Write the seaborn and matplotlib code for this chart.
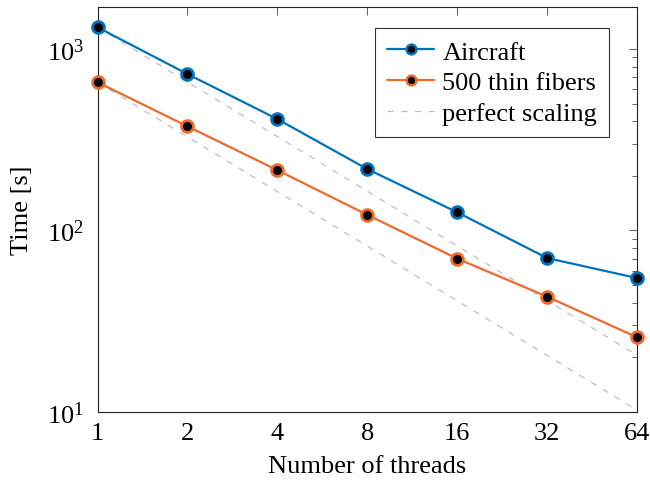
import numpy as np
import pandas as pd
import matplotlib
matplotlib.use("Agg")
import matplotlib.pyplot as plt
import seaborn as sns
from matplotlib.lines import Line2D
from matplotlib.ticker import FixedLocator, FixedFormatter, LogLocator, NullFormatter

# data
threads = [1, 2, 4, 8, 16, 32, 64]
aircraft = [1317, 728, 411, 218, 126, 70.5, 54.7]
fibers = [656, 375, 215, 122, 70, 43.2, 25.8]
labels = ["Aircraft", "500 thin fibers", "perfect scaling"]

sns.set_style("white")
plt.rcParams["font.family"] = ["Liberation Serif", "DejaVu Serif"]
plt.rcParams["mathtext.fontset"] = "stix"
plt.rcParams["text.color"] = "black"
plt.rcParams["axes.labelcolor"] = "black"
plt.rcParams["xtick.labelcolor"] = "black"
plt.rcParams["ytick.labelcolor"] = "black"
FS = 19

df = pd.DataFrame({
    "threads": threads * 2,
    "time": aircraft + fibers,
    "case": [labels[0]] * len(threads) + [labels[1]] * len(threads),
})

fig, ax = plt.subplots(figsize=(6.5, 4.81), dpi=100)
fig.subplots_adjust(left=0.150, right=0.980, top=0.983, bottom=0.1414)

blue = "#0072BD"
orange = "#EE6A2C"
dash_col = "#c0c0c0"

sns.lineplot(data=df, x="threads", y="time", hue="case",
             palette=[blue, orange], marker="o", markersize=8.5,
             markerfacecolor="black", markeredgewidth=2, linewidth=1.6,
             ax=ax, legend=False)
for line, c in zip(ax.get_lines(), [blue, orange]):
    line.set_markeredgecolor(c)
    line.set_clip_on(False)
    line.set_zorder(5)

# perfect scaling lines
t = np.array(threads, dtype=float)
ax.plot(t, aircraft[0] / t, ls=(0, (5, 6)), color=dash_col, lw=0.9, zorder=1)
ax.plot(t, fibers[0] / t, ls=(0, (5, 6)), color=dash_col, lw=0.9, zorder=1)

ax.set_xscale("log", base=2)
ax.set_yscale("log")
ax.set_xlim(1, 64)
ax.set_ylim(10, 1700)

ax.xaxis.set_major_locator(FixedLocator(threads))
ax.xaxis.set_major_formatter(FixedFormatter([str(v) for v in threads]))
ax.xaxis.set_minor_locator(FixedLocator([]))
ax.yaxis.set_major_locator(LogLocator(base=10))
ax.yaxis.set_minor_locator(LogLocator(base=10, subs=np.arange(2, 10)))
ax.yaxis.set_minor_formatter(NullFormatter())

ax.tick_params(which="both", direction="in", top=True, right=True,
               labelsize=FS, color="#444444")
ax.tick_params(which="major", length=6, width=0.6)
ax.tick_params(which="minor", length=3.5, width=0.6)
ax.tick_params(axis="x", pad=7)
ax.tick_params(axis="y", pad=10)
for s in ax.spines.values():
    s.set_linewidth(0.8)
    s.set_color("#222222")

ax.set_xlabel("Number of threads", fontsize=FS, labelpad=8)
ax.set_ylabel("Time [s]", fontsize=FS, labelpad=10)

handles = [
    Line2D([], [], color=blue, marker="o", markersize=7, markerfacecolor="black",
           markeredgecolor=blue, markeredgewidth=1.8, lw=1.6),
    Line2D([], [], color=orange, marker="o", markersize=7, markerfacecolor="black",
           markeredgecolor=orange, markeredgewidth=1.8, lw=1.6),
    Line2D([], [], color=dash_col, ls=(0, (5, 6)), lw=0.9),
]
leg = ax.legend(handles, labels,
                loc="upper right", bbox_to_anchor=(0.948, 0.948), fontsize=FS,
                frameon=True, fancybox=False, edgecolor="black",
                handlelength=1.8, handletextpad=0.3, borderpad=0.45,
                labelspacing=0.28, borderaxespad=0)
leg.get_frame().set_linewidth(0.8)

fig.savefig("out.png", dpi=100)
